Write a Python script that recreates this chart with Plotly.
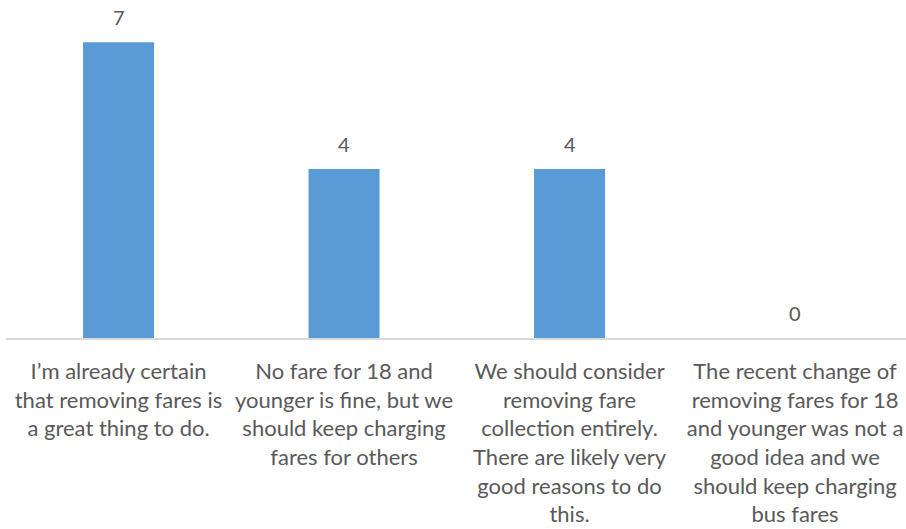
import plotly.graph_objects as go

categories = [
    "I’m already certain<br>that removing fares is<br>a great thing to do.",
    "No fare for 18 and<br>younger is fine, but we<br>should keep charging<br>fares for others",
    "We should consider<br>removing fare<br>collection entirely.<br>There are likely very<br>good reasons to do<br>this.",
    "The recent change of<br>removing fares for 18<br>and younger was not a<br>good idea and we<br>should keep charging<br>bus fares",
]
values = [7, 4, 4, 0]

FONT = "Lato"
GRAY = "#595959"

fig = go.Figure()
fig.add_trace(go.Bar(
    x=categories, y=values,
    marker=dict(color="#5B9BD5", line=dict(width=0)),
    width=0.315,
    hoverinfo="skip",
))

for c, v in zip(categories, values):
    fig.add_annotation(
        x=c, y=v, text=str(v), showarrow=False,
        yanchor="bottom", yshift=11,
        font=dict(family=FONT, size=20, color=GRAY),
    )

fig.update_layout(
    width=906, height=529,
    margin=dict(l=6, r=0, t=0, b=191, autoexpand=False),
    plot_bgcolor="white", paper_bgcolor="white",
    showlegend=False,
    xaxis=dict(
        range=[-0.499, 3.492], fixedrange=True,
        showline=True, linecolor="#D9D9D9", linewidth=1.5,
        ticks="outside", ticklen=13, tickcolor="rgba(0,0,0,0)",
        tickfont=dict(family=FONT, size=22, color=GRAY),
        showgrid=False, zeroline=False,
    ),
    yaxis=dict(
        range=[0, 8], visible=False, showgrid=False, zeroline=False,
        fixedrange=True,
    ),
)

fig.write_html(
    "out.html",
    config={"displayModeBar": False},
    post_script="document.body.style.margin='0';document.body.style.overflow='hidden';",
)
